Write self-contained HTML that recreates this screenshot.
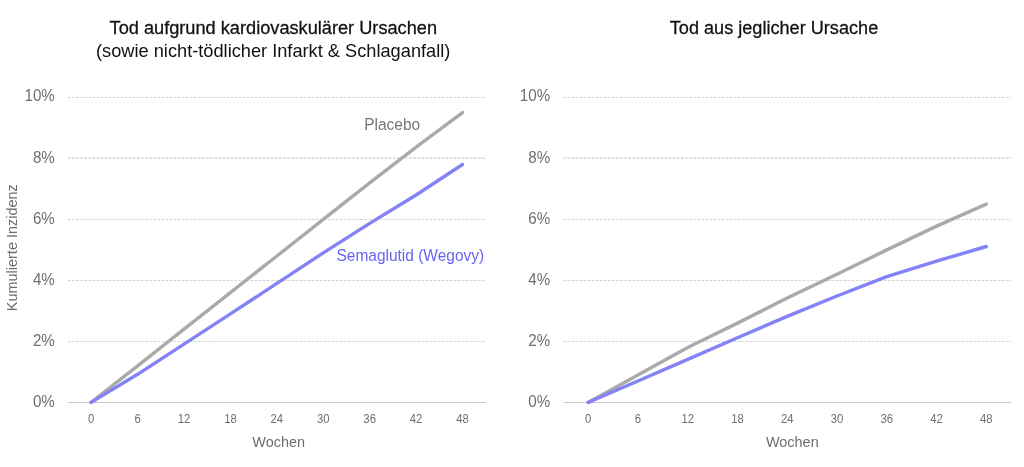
<!DOCTYPE html>
<html><head><meta charset="utf-8"><title>Semaglutid SELECT</title>
<style>
html,body{margin:0;padding:0;background:#fff;}
body{width:1024px;height:467px;overflow:hidden;position:relative;font-family:"Liberation Sans",Arial,sans-serif;}
svg{position:absolute;left:0;top:0;will-change:transform;}
svg text{font-family:"Liberation Sans",Arial,sans-serif;}
</style></head><body>
<svg width="1024" height="467" viewBox="0 0 1024 467">
<text transform="translate(273.30 33.60) scale(0.973 1)" font-size="18.7" text-anchor="middle" fill="#111" stroke="#111" stroke-width="0.28">Tod aufgrund kardiovaskulärer Ursachen</text>
<text transform="translate(273.20 56.50) scale(0.991 1)" font-size="18.4" text-anchor="middle" fill="#111">(sowie nicht-tödlicher Infarkt &amp; Schlaganfall)</text>
<text transform="translate(774.00 34.00) scale(0.969 1)" font-size="18.7" text-anchor="middle" fill="#111" stroke="#111" stroke-width="0.28">Tod aus jeglicher Ursache</text>
<line x1="68.0" x2="485.7" y1="341.5" y2="341.5" stroke="#d4d4d4" stroke-width="1" stroke-dasharray="2.7 1.36"/>
<line x1="68.0" x2="485.7" y1="280.5" y2="280.5" stroke="#d4d4d4" stroke-width="1" stroke-dasharray="2.7 1.36"/>
<line x1="68.0" x2="485.7" y1="219.5" y2="219.5" stroke="#d4d4d4" stroke-width="1" stroke-dasharray="2.7 1.36"/>
<line x1="68.0" x2="485.7" y1="158.0" y2="158.0" stroke="#c0c0c0" stroke-width="1" stroke-dasharray="2.7 1.36"/>
<line x1="68.0" x2="485.7" y1="97.5" y2="97.5" stroke="#d4d4d4" stroke-width="1" stroke-dasharray="2.7 1.36"/>
<line x1="68.0" x2="485.7" y1="402.5" y2="402.5" stroke="#c8c8c8" stroke-width="1"/>
<text transform="translate(54.80 406.70) scale(0.960 1)" font-size="15.8" text-anchor="end" fill="#6e6e6e">0%</text>
<text transform="translate(54.80 345.70) scale(0.960 1)" font-size="15.8" text-anchor="end" fill="#6e6e6e">2%</text>
<text transform="translate(54.80 284.70) scale(0.960 1)" font-size="15.8" text-anchor="end" fill="#6e6e6e">4%</text>
<text transform="translate(54.80 223.70) scale(0.960 1)" font-size="15.8" text-anchor="end" fill="#6e6e6e">6%</text>
<text transform="translate(54.80 162.70) scale(0.960 1)" font-size="15.8" text-anchor="end" fill="#6e6e6e">8%</text>
<text transform="translate(54.80 101.20) scale(0.960 1)" font-size="15.8" text-anchor="end" fill="#6e6e6e">10%</text>
<text transform="translate(91.21 423.00) scale(0.886 1)" font-size="12.8" text-anchor="middle" fill="#6e6e6e">0</text>
<text transform="translate(137.62 423.00) scale(0.886 1)" font-size="12.8" text-anchor="middle" fill="#6e6e6e">6</text>
<text transform="translate(184.03 423.00) scale(0.886 1)" font-size="12.8" text-anchor="middle" fill="#6e6e6e">12</text>
<text transform="translate(230.44 423.00) scale(0.886 1)" font-size="12.8" text-anchor="middle" fill="#6e6e6e">18</text>
<text transform="translate(276.85 423.00) scale(0.886 1)" font-size="12.8" text-anchor="middle" fill="#6e6e6e">24</text>
<text transform="translate(323.26 423.00) scale(0.886 1)" font-size="12.8" text-anchor="middle" fill="#6e6e6e">30</text>
<text transform="translate(369.67 423.00) scale(0.886 1)" font-size="12.8" text-anchor="middle" fill="#6e6e6e">36</text>
<text transform="translate(416.08 423.00) scale(0.886 1)" font-size="12.8" text-anchor="middle" fill="#6e6e6e">42</text>
<text transform="translate(462.49 423.00) scale(0.886 1)" font-size="12.8" text-anchor="middle" fill="#6e6e6e">48</text>
<polyline points="91.2,402.4 137.6,365.8 184.0,329.2 230.4,292.6 276.9,256.0 323.3,219.4 369.7,182.8 416.1,147.1 462.5,112.6" fill="none" stroke="#aaaaaa" stroke-width="3.4" stroke-linecap="round" stroke-linejoin="round"/>
<polyline points="91.2,402.4 137.6,374.3 184.0,344.1 230.4,313.9 276.9,283.4 323.3,252.9 369.7,223.4 416.1,195.0 462.5,164.5" fill="none" stroke="#8383f7" stroke-width="3.4" stroke-linecap="round" stroke-linejoin="round"/>
<line x1="563.3" x2="1011.2" y1="341.5" y2="341.5" stroke="#d4d4d4" stroke-width="1" stroke-dasharray="2.7 1.36"/>
<line x1="563.3" x2="1011.2" y1="280.5" y2="280.5" stroke="#d4d4d4" stroke-width="1" stroke-dasharray="2.7 1.36"/>
<line x1="563.3" x2="1011.2" y1="219.5" y2="219.5" stroke="#d4d4d4" stroke-width="1" stroke-dasharray="2.7 1.36"/>
<line x1="563.3" x2="1011.2" y1="158.0" y2="158.0" stroke="#c0c0c0" stroke-width="1" stroke-dasharray="2.7 1.36"/>
<line x1="563.3" x2="1011.2" y1="97.5" y2="97.5" stroke="#d4d4d4" stroke-width="1" stroke-dasharray="2.7 1.36"/>
<line x1="563.3" x2="1011.2" y1="402.5" y2="402.5" stroke="#c8c8c8" stroke-width="1"/>
<text transform="translate(550.20 406.70) scale(0.960 1)" font-size="15.8" text-anchor="end" fill="#6e6e6e">0%</text>
<text transform="translate(550.20 345.70) scale(0.960 1)" font-size="15.8" text-anchor="end" fill="#6e6e6e">2%</text>
<text transform="translate(550.20 284.70) scale(0.960 1)" font-size="15.8" text-anchor="end" fill="#6e6e6e">4%</text>
<text transform="translate(550.20 223.70) scale(0.960 1)" font-size="15.8" text-anchor="end" fill="#6e6e6e">6%</text>
<text transform="translate(550.20 162.70) scale(0.960 1)" font-size="15.8" text-anchor="end" fill="#6e6e6e">8%</text>
<text transform="translate(550.20 101.20) scale(0.960 1)" font-size="15.8" text-anchor="end" fill="#6e6e6e">10%</text>
<text transform="translate(588.18 423.00) scale(0.886 1)" font-size="12.8" text-anchor="middle" fill="#6e6e6e">0</text>
<text transform="translate(637.95 423.00) scale(0.886 1)" font-size="12.8" text-anchor="middle" fill="#6e6e6e">6</text>
<text transform="translate(687.72 423.00) scale(0.886 1)" font-size="12.8" text-anchor="middle" fill="#6e6e6e">12</text>
<text transform="translate(737.48 423.00) scale(0.886 1)" font-size="12.8" text-anchor="middle" fill="#6e6e6e">18</text>
<text transform="translate(787.25 423.00) scale(0.886 1)" font-size="12.8" text-anchor="middle" fill="#6e6e6e">24</text>
<text transform="translate(837.02 423.00) scale(0.886 1)" font-size="12.8" text-anchor="middle" fill="#6e6e6e">30</text>
<text transform="translate(886.78 423.00) scale(0.886 1)" font-size="12.8" text-anchor="middle" fill="#6e6e6e">36</text>
<text transform="translate(936.55 423.00) scale(0.886 1)" font-size="12.8" text-anchor="middle" fill="#6e6e6e">42</text>
<text transform="translate(986.32 423.00) scale(0.886 1)" font-size="12.8" text-anchor="middle" fill="#6e6e6e">48</text>
<polyline points="588.2,402.4 637.9,374.9 687.7,347.5 737.5,323.1 787.2,298.1 837.0,274.3 886.8,249.9 936.6,226.1 986.3,204.1" fill="none" stroke="#aaaaaa" stroke-width="3.4" stroke-linecap="round" stroke-linejoin="round"/>
<polyline points="588.2,402.4 637.9,381.0 687.7,359.4 737.5,337.7 787.2,316.4 837.0,296.0 886.8,276.7 936.6,261.2 986.3,246.5" fill="none" stroke="#8383f7" stroke-width="3.4" stroke-linecap="round" stroke-linejoin="round"/>
<text transform="translate(278.70 446.90) scale(0.945 1)" font-size="15.3" text-anchor="middle" fill="#6e6e6e">Wochen</text>
<text transform="translate(792.30 446.90) scale(0.945 1)" font-size="15.3" text-anchor="middle" fill="#6e6e6e">Wochen</text>
<text transform="translate(17.20 247.70) rotate(-90) scale(0.945 1)" font-size="15.3" text-anchor="middle" fill="#6e6e6e">Kumulierte Inzidenz</text>
<text transform="translate(392.15 130.30) scale(0.907 1)" font-size="17.1" text-anchor="middle" fill="#777777">Placebo</text>
<text transform="translate(410.30 261.40) scale(0.900 1)" font-size="17.2" text-anchor="middle" fill="#6b63f0">Semaglutid (Wegovy)</text>
</svg>
</body></html>
